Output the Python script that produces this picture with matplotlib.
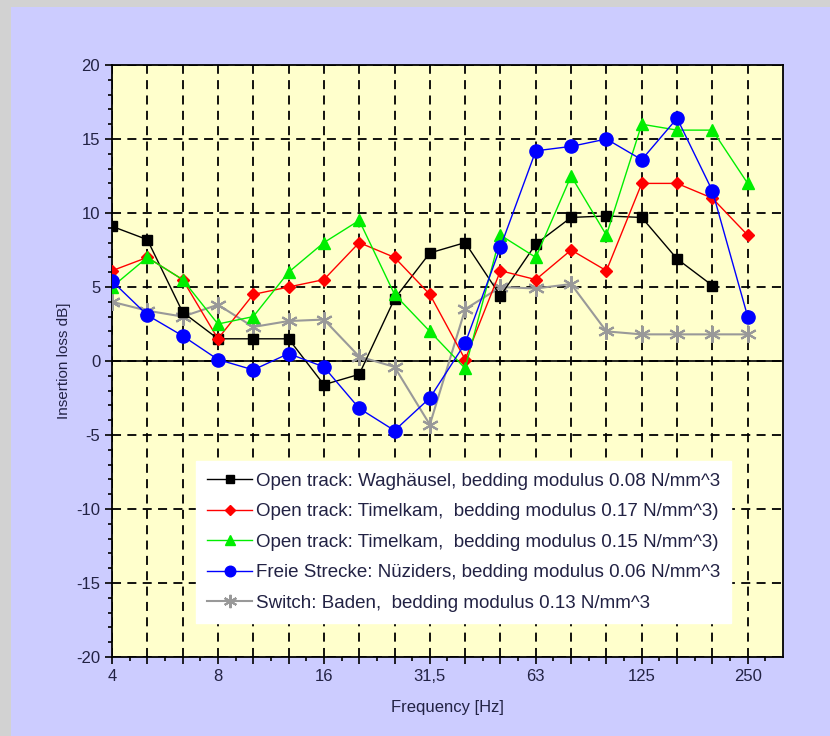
import numpy as np
import matplotlib.pyplot as plt
from matplotlib.patches import Rectangle
from matplotlib.ticker import FixedLocator, MultipleLocator

plt.rcParams['font.family'] = ['Liberation Sans Narrow', 'Liberation Sans', 'DejaVu Sans']
plt.rcParams['axes.unicode_minus'] = False

# third-octave band centre frequencies
freqs = ["4", "5", "6,3", "8", "10", "12,5", "16", "20", "25", "31,5",
         "40", "50", "63", "80", "100", "125", "160", "200", "250"]
shown_labels = ["4", "8", "16", "31,5", "63", "125", "250"]

waghaeusel = [9.1, 8.2, 3.3, 1.5, 1.5, 1.5, -1.6, -0.9, 4.2, 7.3,
              8.0, 4.4, 7.9, 9.7, 9.8, 9.7, 6.9, 5.1, np.nan]
timelkam_017 = [6.1, 7.0, 5.5, 1.5, 4.5, 5.0, 5.5, 8.0, 7.0, 4.5,
                0.1, 6.1, 5.5, 7.5, 6.1, 12.0, 12.0, 11.0, 8.5]
timelkam_015 = [5.0, 7.0, 5.5, 2.5, 3.0, 6.0, 8.0, 9.5, 4.5, 2.0,
                -0.5, 8.5, 7.0, 12.5, 8.5, 16.0, 15.6, 15.6, 12.0]
nueziders = [5.4, 3.1, 1.7, 0.1, -0.6, 0.5, -0.4, -3.2, -4.7, -2.5,
             1.2, 7.7, 14.2, 14.5, 15.0, 13.6, 16.4, 11.5, 3.0]
baden = [4.0, 3.4, 3.0, 3.8, 2.3, 2.7, 2.8, 0.3, -0.4, -4.3,
         3.5, 5.0, 4.9, 5.2, 2.0, 1.8, 1.8, 1.8, 1.8]

labels = [
    "Open track: Waghäusel, bedding modulus 0.08 N/mm^3",
    "Open track: Timelkam,  bedding modulus 0.17 N/mm^3)",
    "Open track: Timelkam,  bedding modulus 0.15 N/mm^3)",
    "Freie Strecke: Nüziders, bedding modulus 0.06 N/mm^3",
    "Switch: Baden,  bedding modulus 0.13 N/mm^3",
]

fig = plt.figure(figsize=(8.3, 7.36), dpi=100, facecolor="#d2d2d2")
fig.patches.append(Rectangle((11 / 830, 0), 1, 1 - 7 / 736, transform=fig.transFigure,
                             facecolor="#ccccff", edgecolor="none", zorder=-10))

ax = fig.add_axes([112 / 830, 1 - 657 / 736, 671 / 830, 592 / 736])
ax.set_zorder(1)
ax.set_facecolor("#ffffcc")

x = np.arange(len(freqs))
ax.axhline(0, color="black", lw=1.2, zorder=2)

ax.plot(x, waghaeusel, color="black", lw=1, marker="s", ms=7.5, label=labels[0], zorder=4)
ax.plot(x, timelkam_017, color="red", lw=1, marker="D", ms=6.5, label=labels[1], zorder=4)
ax.plot(x, timelkam_015, color="#00ee00", lw=1, marker="^", ms=8.5, label=labels[2], zorder=4)
ax.plot(x, nueziders, color="blue", lw=1, marker="o", ms=9.5, label=labels[3], zorder=4)
ax.plot(x, baden, color="#999999", lw=1.5, marker=(6, 2, 0), ms=12, mew=1.5,
        label=labels[4], zorder=3)

ax.set_xlim(0, 19)
ax.set_ylim(-20, 20)

ax.xaxis.set_major_locator(FixedLocator(x))
ax.set_xticklabels([f if f in shown_labels else "" for f in freqs], fontsize=12)
ax.xaxis.set_minor_locator(FixedLocator(np.arange(0.5, 19.5, 1)))
ax.yaxis.set_major_locator(MultipleLocator(5))
ax.yaxis.set_minor_locator(MultipleLocator(1))
ax.tick_params(axis="both", which="major", direction="out", length=5, width=1.2,
               labelsize=12, colors="black")
ax.tick_params(axis="both", which="minor", direction="out", length=3, width=1.2)
for lbl in ax.get_xticklabels() + ax.get_yticklabels():
    lbl.set_color("#222244")

ax.grid(True, which="major", color="black", linestyle=(0, (5, 3.5)), lw=1.3, zorder=1)
for s in ax.spines.values():
    s.set_linewidth(1.3)

ax.set_xlabel("Frequency [Hz]", fontsize=12, color="#222244", labelpad=12)
ax.set_ylabel("Insertion loss dB]", fontsize=11, color="#222244", labelpad=4)

leg = ax.legend(loc="lower left", bbox_to_anchor=(0.125, 0.057), borderaxespad=0,
                fontsize=13.5, frameon=True, fancybox=False, framealpha=1,
                facecolor="white", edgecolor="white", handlelength=2.4,
                handletextpad=0.2, labelspacing=0.72, borderpad=0.6,
                markerscale=0.8)
leg.set_zorder(5)
for t in leg.get_texts():
    t.set_color("#222244")

fig.savefig("out.png", dpi=100, facecolor=fig.get_facecolor())
